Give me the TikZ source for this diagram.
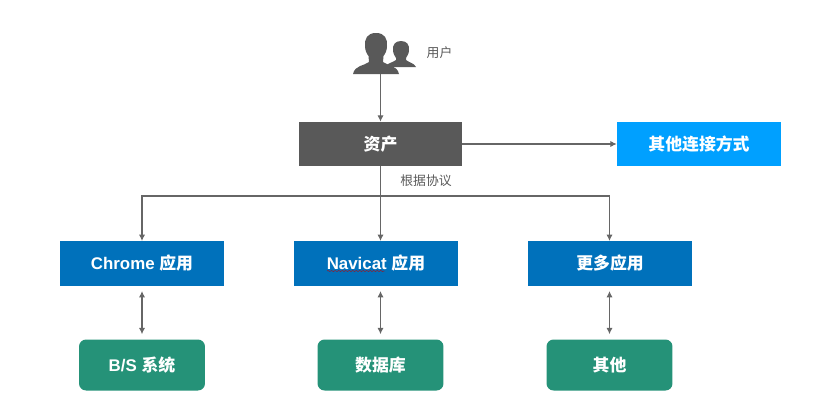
\documentclass[tikz,border=0pt]{standalone}
\usepackage{fontspec}
\setmainfont{Liberation Sans}
\newfontfamily\cjk{Noto Sans CJK SC}
\usetikzlibrary{arrows.meta,decorations.pathmorphing}
\definecolor{assetgray}{HTML}{595959}
\definecolor{linegray}{HTML}{666666}
\definecolor{otherblue}{HTML}{00A0FF}
\definecolor{appblue}{HTML}{0071BB}
\definecolor{sysgreen}{HTML}{259278}
\tikzset{
  box/.style={inner sep=0pt,text=white,font=\fontsize{9.6}{12}\selectfont\bfseries},
  assetbox/.style={box,fill=assetgray,minimum width=3.26cm,minimum height=0.88cm},
  otherbox/.style={box,fill=otherblue,minimum width=3.28cm,minimum height=0.88cm},
  appbox/.style={box,fill=appblue,minimum width=3.27cm,minimum height=0.89cm},
  sysbox/.style={box,fill=sysgreen,rounded corners=0.14cm,minimum width=2.52cm,minimum height=1.02cm},
  lbl/.style={inner sep=0pt,text=assetgray,font=\fontsize{7.3}{9}\selectfont\cjk},
  link/.style={draw=linegray,line width=0.6pt,-{Latex[length=3.6pt,width=3.6pt]}},
  bothway/.style={draw=linegray,line width=0.6pt,{Latex[length=3.6pt,width=3.6pt]}-{Latex[length=3.6pt,width=3.6pt]},shorten >=0.1cm,shorten <=0.1cm},
}
\begin{document}
\begin{tikzpicture}[x=0.02cm,y=-0.02cm]
   \useasboundingbox (0,0) rectangle (831,419);
   % users icon
   \fill[assetgray] (401,41) .. controls (395,41) and (392.5,45) .. (393,50)
      .. controls (393,54) and (395,56) .. (396,58) -- (396,60)
      .. controls (392,63) and (387,63) .. (385,67) -- (416,67)
      .. controls (414,63) and (410,63) .. (406,60) -- (406,58)
      .. controls (407,56) and (409,54) .. (409,50)
      .. controls (409.5,45) and (407,41) .. (401,41) -- cycle;
   \fill[assetgray] (376,33) .. controls (367,33) and (364.5,39) .. (365,46)
      .. controls (365,51) and (367,54) .. (368.5,56) -- (369,62)
      .. controls (364,66) and (355,65) .. (353,74) -- (399,74)
      .. controls (397,65) and (388,66) .. (383,62) -- (383.5,56)
      .. controls (385,54) and (387,51) .. (387,46)
      .. controls (387.5,39) and (385,33) .. (376,33) -- cycle;
   \coordinate (users) at (380.5,74);
   \node[lbl] (userlbl) at (439.5,53) {用户};
   % boxes
   \node[assetbox] (asset) at (380.5,144) {\cjk 资产};
   \node[otherbox] (other) at (699,144) {\cjk 其他连接方式};
   \node[lbl] (protolbl) at (426,181) {根据协议};
   \coordinate (bus) at (380.5,196);
   \node[appbox] (chrome) at (142,263.5) {Chrome {\cjk 应用}};
   \node[appbox] (navicat) at (376,263.5) {Navicat {\cjk 应用}};
   \node[appbox] (more) at (610,263.5) {\cjk 更多应用};
   \node[sysbox] (bs) at (142,365) {B/S {\cjk 系统}};
   \node[sysbox] (db) at (380.5,365) {\cjk 数据库};
   \node[sysbox] (etc) at (609.5,365) {\cjk 其他};
   % spell check underline
   \draw[red!75!black,line width=0.25pt,decorate,decoration={snake,amplitude=0.25pt,segment length=2pt}]
      (327,271) -- (385,271);
   % connectors
   \draw[link] (users) -- (asset.north);
   \draw[link] (asset.east) -- (other.west);
   \draw[link] (bus) -- (bus |- navicat.north);
   \draw[draw=linegray,line width=0.6pt] (asset.south) -- (bus);
   \draw[link] (bus) -| (chrome.north);
   \draw[link] (bus) -| (more.north -| etc.north);
   \draw[bothway] (chrome.south) -- (bs.north);
   \draw[bothway] (db.north |- navicat.south) -- (db.north);
   \draw[bothway] (etc.north |- more.south) -- (etc.north);
\end{tikzpicture}
\end{document}
